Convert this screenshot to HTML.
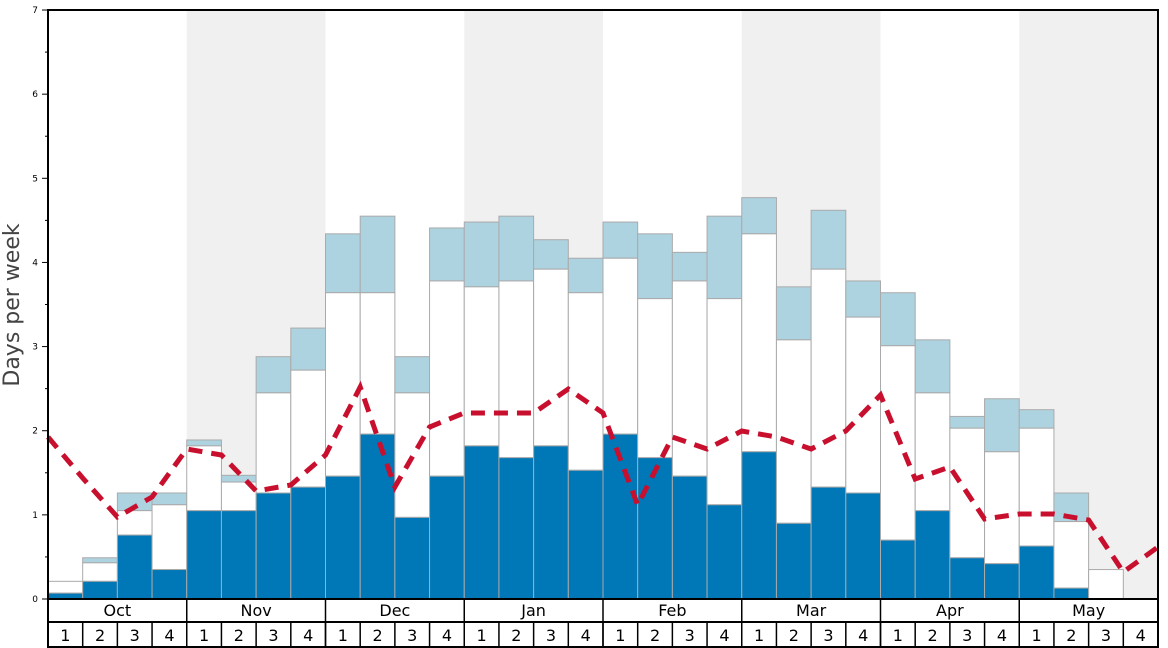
<!DOCTYPE html><html><head><style>body{margin:0;background:#fff}svg{display:block}text{font-family:"DejaVu Sans","Liberation Sans",sans-serif}</style></head><body>
<svg id="s" width="1168" height="648" xmlns="http://www.w3.org/2000/svg"></svg>
<script>
const s=document.getElementById('s');let h='';
const L=48,R=1158,T=10,B=599,W=(R-L)/32,Y=v=>B-v*84.14;
[1,3,5,7].forEach(m=>{h+=`<rect x="${L+m*4*W}" y="${T}" width="${4*W}" height="${B-T}" fill="#f0f0f0"/>`});
const d=[[.07,.21,0],[.21,.43,.49],[.76,1.05,1.26],[.35,1.12,1.26],[1.05,1.82,1.89],[1.05,1.39,1.47],[1.26,2.45,2.88],[1.33,2.72,3.22],[1.46,3.64,4.34],[1.96,3.64,4.55],[.97,2.45,2.88],[1.46,3.78,4.41],[1.82,3.71,4.48],[1.68,3.78,4.55],[1.82,3.92,4.27],[1.53,3.64,4.05],[1.96,4.05,4.48],[1.68,3.57,4.34],[1.46,3.78,4.12],[1.12,3.57,4.55],[1.75,4.34,4.77],[.9,3.08,3.71],[1.33,3.92,4.62],[1.26,3.35,3.78],[.7,3.01,3.64],[1.05,2.45,3.08],[.49,2.03,2.17],[.42,1.75,2.38],[.63,2.03,2.25],[.13,.92,1.26],[0,.35,0],[0,0,0]];
d.forEach((b,i)=>{const x=L+i*W;
if(b[2]>0)h+=`<rect x="${x}" y="${Y(b[2])}" width="${W}" height="${Y(b[1])-Y(b[2])}" fill="#aed3e0" stroke="#aaa"/>`;
if(b[1]>0)h+=`<rect x="${x}" y="${Y(b[1])}" width="${W}" height="${Y(b[0])-Y(b[1])}" fill="#fff" stroke="#aaa"/>`;
if(b[0]>0)h+=`<rect x="${x}" y="${Y(b[0])}" width="${W}" height="${B-Y(b[0])}" fill="#0077b6" stroke="#aaa"/>`;});
const ly=[437,478,517,497,449,455,491,485,455,387,487,427,413,413,413,389,413,505,437,449,431,437,449,431,395,479,467,519,514,514,520,572,547];
h+=`<polyline points="${ly.map((y,i)=>(L+i*W)+','+y).join(' ')}" fill="none" stroke="#c8102e" stroke-width="5" stroke-dasharray="14,9"/>`;
h+=`<rect x="${L}" y="${T}" width="${R-L}" height="${B-T}" fill="none" stroke="#000" stroke-width="2"/>`;
for(let v=0;v<=7;v+=.5){const y=Y(v);h+=`<line x1="${L-(v%1?3:6)}" x2="${L}" y1="${y}" y2="${y}" stroke="#000"/>`;if(v%1==0)h+=`<text x="38" y="${y+3}" font-size="9" text-anchor="end">${v}</text>`}
h+=`<text transform="translate(19,305) rotate(-90)" font-size="22" fill="#444" text-anchor="middle">Days per week</text>`;
const M=['Oct','Nov','Dec','Jan','Feb','Mar','Apr','May'];
h+=`<line x1="${L}" x2="${R}" y1="622" y2="622" stroke="#000" stroke-width="2"/><line x1="${L}" x2="${R}" y1="647" y2="647" stroke="#000" stroke-width="2"/><line x1="${L}" x2="${L}" y1="599" y2="648" stroke="#000" stroke-width="2"/><line x1="${R}" x2="${R}" y1="599" y2="648" stroke="#000" stroke-width="2"/>`;
M.forEach((m,k)=>{const x=L+k*4*W;h+=`<line x1="${x}" x2="${x}" y1="599" y2="648" stroke="#000" stroke-width="1.5"/><text x="${x+2*W}" y="616" font-size="16" text-anchor="middle">${m}</text>`;
for(let j=0;j<4;j++){const xx=x+j*W;h+=`<line x1="${xx}" x2="${xx}" y1="622" y2="648" stroke="#000" stroke-width="1.5"/><text x="${xx+W/2}" y="641" font-size="16" text-anchor="middle">${j+1}</text>`}});
s.innerHTML=h;
</script></body></html>
